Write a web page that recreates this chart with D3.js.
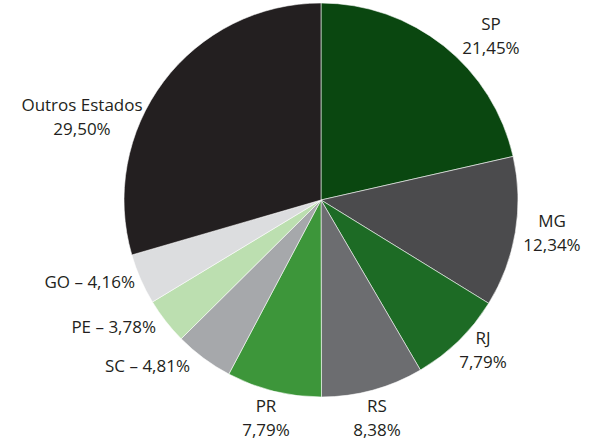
<!DOCTYPE html>
<html><head><meta charset="utf-8">
<script src="https://cdn.jsdelivr.net/npm/d3@7"></script>
<style>body{margin:0;background:#fff}svg{display:block}text{font-family:"Open Sans",sans-serif;font-size:17px;fill:#231f20}</style>
</head><body>
<svg id="c" width="591" height="448"></svg>
<script>
const categories = ["SP","MG","RJ","RS","PR","SC","PE","GO","Outros Estados"];
const values = [21.45,12.34,7.79,8.38,7.79,4.81,3.78,4.16,29.50];
const valueLabels = ["21,45%","12,34%","7,79%","8,38%","7,79%","4,81%","3,78%","4,16%","29,50%"];
const colors = ["#0a4710","#4b4b4d","#1d6b25","#6c6d70","#3d963a","#a6a8ab","#bcdfb0","#dcdddf","#231f20"];
// label layout: [x, y, mode] mode "two" = two lines centered, "one" = single line right-aligned
const labelLayout = [[491,30,"two"],[552,227,"two"],[483,344,"two"],[377,412,"two"],[266,412,"two"],[190,372,"one"],[156,333,"one"],[135,288,"one"],[82,111,"two"]];

const svg = d3.select("#c");
const cx = 321, cy = 200, r = 197;
const pie = d3.pie().sort(null).value(d => d.v);
const data = categories.map((c,i)=>({c, v: values[i], lab: valueLabels[i], col: colors[i], L: labelLayout[i]}));
const arc = d3.arc().innerRadius(0).outerRadius(r);
const g = svg.append("g").attr("transform",`translate(${cx},${cy})`);
g.selectAll("path").data(pie(data)).join("path")
  .attr("d", arc).attr("fill", d=>d.data.col)
  .attr("stroke","#ffffff").attr("stroke-width",0.7).attr("stroke-opacity",0.8);

data.forEach(d=>{
  const [x,y,m] = d.L;
  if (m==="two"){
    svg.append("text").attr("x",x).attr("y",y).attr("text-anchor","middle").text(d.c);
    svg.append("text").attr("x",x).attr("y",y+24).attr("text-anchor","middle").text(d.lab);
  } else {
    svg.append("text").attr("x",x).attr("y",y).attr("text-anchor","end").text(d.c+" \u2013 "+d.lab);
  }
});
</script>
</body></html>
